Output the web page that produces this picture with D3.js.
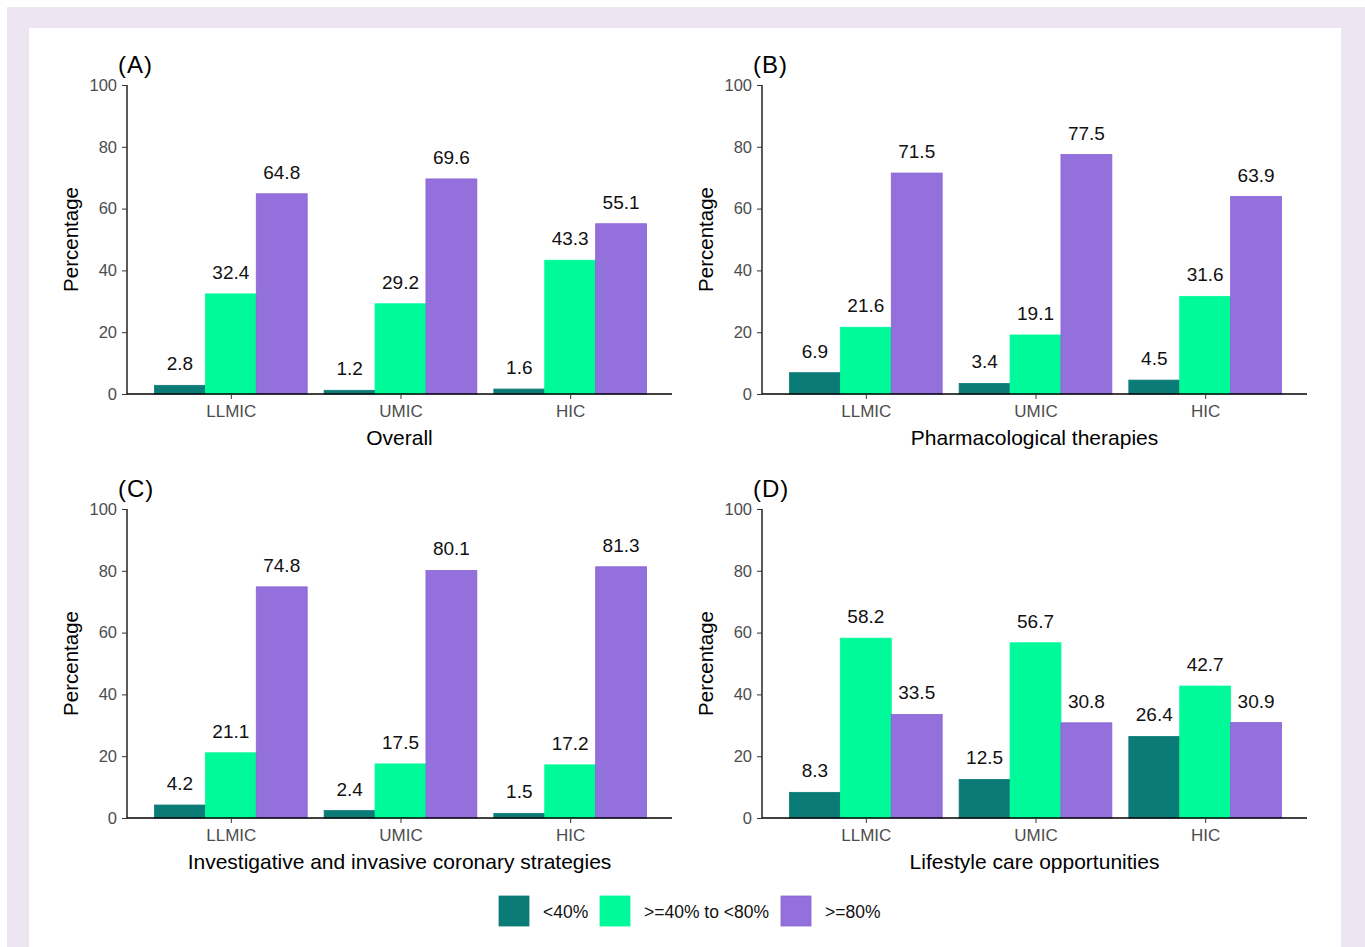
<!DOCTYPE html>
<html><head><meta charset="utf-8">
<script src="https://cdn.jsdelivr.net/npm/d3@7"></script>
<style>body{margin:0;background:#fff}svg{display:block;font-family:"Liberation Sans",Arial,sans-serif}</style>
</head><body>
<svg id="c" width="1365" height="947"></svg>
<script>
const categories = ["LLMIC", "UMIC", "HIC"];
const seriesNames = ["<40%", ">=40% to <80%", ">=80%"];
const seriesColors = ["#0b7b77", "#00fa9a", "#9370db"];
const seriesStroke = ["#0b7b77", "#00fa9a", "#8a63d6"];
const panelLetters = ["(A)", "(B)", "(C)", "(D)"];
const panelTitles = ["Overall", "Pharmacological therapies", "Investigative and invasive coronary strategies", "Lifestyle care opportunities"];
const yTicks = [0, 20, 40, 60, 80, 100];
// values[panel][category] = [<40%, >=40% to <80%, >=80%]
const overallValues = [[2.8, 32.4, 64.8], [1.2, 29.2, 69.6], [1.6, 43.3, 55.1]];
const pharmaValues = [[6.9, 21.6, 71.5], [3.4, 19.1, 77.5], [4.5, 31.6, 63.9]];
const investigativeValues = [[4.2, 21.1, 74.8], [2.4, 17.5, 80.1], [1.5, 17.2, 81.3]];
const lifestyleValues = [[8.3, 58.2, 33.5], [12.5, 56.7, 30.8], [26.4, 42.7, 30.9]];
const panelValues = [overallValues, pharmaValues, investigativeValues, lifestyleValues];

const svg = d3.select("#c");
svg.append("rect").attr("x", 7).attr("y", 7).attr("width", 1358).attr("height", 940).attr("fill", "#ede6f2");
svg.append("rect").attr("x", 29).attr("y", 28).attr("width", 1312).attr("height", 919).attr("fill", "#ffffff");

const panels = [
  {x0: 127, x1: 672, yTop: 85, yBot: 394},
  {x0: 762, x1: 1307, yTop: 85, yBot: 394},
  {x0: 127, x1: 672, yTop: 509, yBot: 818},
  {x0: 762, x1: 1307, yTop: 509, yBot: 818}
];

panels.forEach((p, i) => {
  const g = svg.append("g");
  const y = d3.scaleLinear().domain([0, 100]).range([p.yBot, p.yTop]);
  // ggplot discrete expansion: 0.6 units each side
  const bx0 = p.x0 + 2;
  const unit = (p.x1 - bx0) / 3.2;
  const x = d3.scalePoint().domain(categories).range([bx0 + 0.6 * unit, p.x1 - 0.6 * unit]);
  const bw = 0.9 * unit / 3;
  const data = panelValues[i];

  categories.forEach((c, ci) => {
    data[ci].forEach((v, si) => {
      const bx = x(c) - 1.5 * bw + si * bw;
      g.append("rect")
        .attr("x", bx).attr("y", y(v))
        .attr("width", bw).attr("height", y(0) - y(v))
        .attr("fill", seriesColors[si])
        .attr("stroke", seriesStroke[si]).attr("stroke-width", 0.8);
      g.append("text")
        .attr("x", bx + bw / 2).attr("y", y(v) - 15)
        .attr("text-anchor", "middle")
        .attr("font-size", 19).attr("fill", "#111")
        .text(v.toFixed(1));
    });
  });

  const yAxis = d3.axisLeft(y).tickValues(yTicks).tickSize(5).tickPadding(5);
  const ya = g.append("g").attr("transform", `translate(${p.x0},0)`).call(yAxis);
  ya.attr("font-size", null).attr("font-family", null);
  ya.select(".domain").attr("stroke", "#000").attr("stroke-width", 1.3).attr("d", `M-0,${p.yTop}V${p.yBot}`);
  ya.selectAll(".tick line").attr("stroke", "#333");
  ya.selectAll(".tick text").style("font-size", "16.5px").attr("fill", "#4d4d4d");

  const xAxis = d3.axisBottom(x).tickSize(5).tickPadding(6);
  const xa = g.append("g").attr("transform", `translate(0,${p.yBot})`).call(xAxis);
  xa.attr("font-size", null).attr("font-family", null);
  xa.select(".domain").attr("stroke", "#000").attr("stroke-width", 1.3).attr("d", `M${p.x0},0H${p.x1}`);
  xa.selectAll(".tick line").attr("stroke", "#333");
  xa.selectAll(".tick text").style("font-size", "17px").attr("fill", "#4d4d4d");

  g.append("text")
    .attr("transform", `translate(${p.x0 - 49},${(p.yTop + p.yBot) / 2}) rotate(-90)`)
    .attr("text-anchor", "middle").attr("font-size", 20.5).attr("fill", "#000")
    .text("Percentage");
  g.append("text")
    .attr("x", (p.x0 + p.x1) / 2).attr("y", p.yBot + 51)
    .attr("text-anchor", "middle").attr("font-size", 21).attr("fill", "#000")
    .text(panelTitles[i]);
  g.append("text")
    .attr("x", p.x0 - 9).attr("y", p.yTop - 12)
    .attr("font-size", 24).attr("letter-spacing", 1).attr("fill", "#000")
    .text(panelLetters[i]);
});

// Legend
const legendX = [499, 600, 781];
const lg = svg.append("g");
seriesNames.forEach((s, i) => {
  lg.append("rect").attr("x", legendX[i]).attr("y", 896).attr("width", 30).attr("height", 30)
    .attr("fill", seriesColors[i]).attr("stroke", seriesStroke[i]).attr("stroke-width", 0.8);
  lg.append("text").attr("x", legendX[i] + 44).attr("y", 918)
    .attr("font-size", 17.5).attr("fill", "#111").text(s);
});
</script>
</body></html>
